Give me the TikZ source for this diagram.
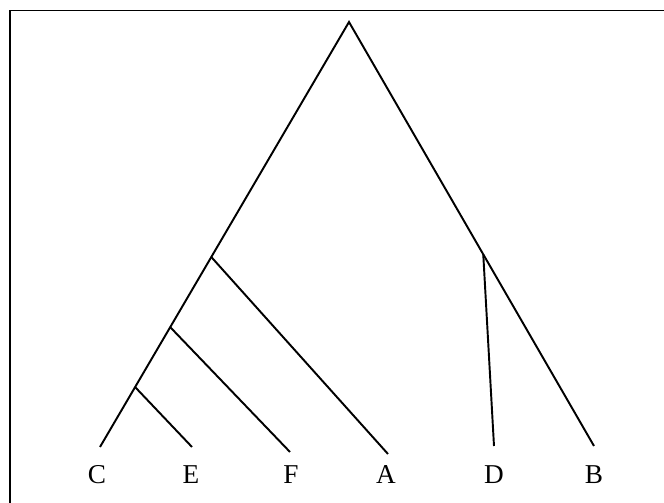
\documentclass[tikz,border=0pt]{standalone}
\usepackage{fontspec}
\setmainfont{Liberation Serif}
\usetikzlibrary{calc}

\begin{document}
\begin{tikzpicture}[x=0.02cm, y=-0.02cm, line width=1.1pt,
    leaf/.style={font=\fontsize{15.5}{18}\selectfont, inner sep=0pt}]

                % fixed picture area and frame
                \useasboundingbox (0,0) rectangle (664,503);
                \draw (10,503) -- (10,10.5) -- (664,10.5);

                % ==========================================
                % Tree coordinates
                % ==========================================

                \coordinate (root) at (349, 22);  % top of the tree
                \coordinate (C)    at (100, 447);
                \coordinate (E)    at (192, 447);
                \coordinate (F)    at (290, 452);
                \coordinate (A)    at (388, 454);
                \coordinate (D)    at (494, 446);
                \coordinate (B)    at (594, 446);

                % Inner vertices on the two main sides
                \coordinate (vA)  at ($(root)!0.553!(C)$);
                \coordinate (vF)  at ($(root)!0.718!(C)$);
                \coordinate (vE)  at ($(root)!0.859!(C)$);
                \coordinate (vD)  at ($(root)!0.548!(B)$);

                % Main sides
                \draw (C) -- (root) -- (B);

                % Side branches on the left
                \draw (vA) -- (A);
                \draw (vF) -- (F);
                \draw (vE) -- (E);

                % Branch on the right
                \draw (vD) -- (D);

                % Leaf labels
                \node[leaf] (labC) at (97, 475)  {C};
                \node[leaf] (labE) at (191, 475) {E};
                \node[leaf] (labF) at (291, 475) {F};
                \node[leaf] (labA) at (386, 475) {A};
                \node[leaf] (labD) at (494, 475) {D};
                \node[leaf] (labB) at (594, 475) {B};

            \end{tikzpicture}
\end{document}
